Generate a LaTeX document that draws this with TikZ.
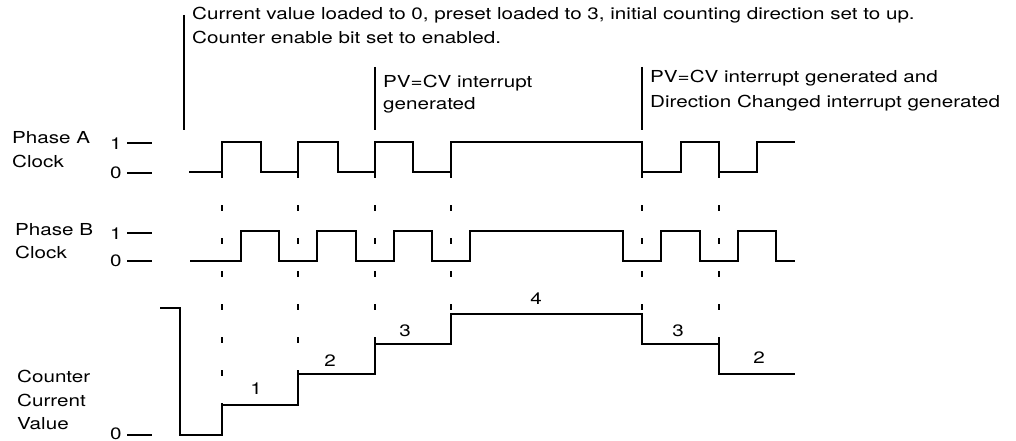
\documentclass[tikz,border=0pt]{standalone}
\usepackage{fontspec}
\setmainfont[FakeStretch=1.25]{TeX Gyre Heros}
\usepackage{tikz}
\usetikzlibrary{positioning}
\tikzset{sig/.style={line width=1.2pt,line join=miter},
  lbl/.style={font=\fontsize{16.5}{20}\selectfont,inner sep=0pt,anchor=base west,align=left},
  val/.style={font=\fontsize{16.5}{20}\selectfont,inner sep=0pt},
  guide/.style={line width=1.1pt,dash pattern=on 6pt off 27pt},
  evbar/.style={line width=1.5pt}}

\begin{document}
\begin{tikzpicture}[x=1pt,y=-1pt]
  \useasboundingbox (0,0) rectangle (1016,441);
  % annotations
  \draw[evbar] (184,15)--(184,130); \draw[evbar] (375,67)--(375,130); \draw[evbar] (642,67)--(642,130);
  \node[lbl] (init) at (192,20) {Current value loaded to 0, preset loaded to 3, initial counting direction set to up.};
  \node[lbl] (init2) at (192,44) {Counter enable bit set to enabled.};
  \node[lbl] (pvcv) at (383,88) {PV=CV interrupt};
  \node[lbl] (pvcv2) at (383,110) {generated};
  \node[lbl] (dir) at (650,83) {PV=CV interrupt generated and};
  \node[lbl] (dir2) at (650,107) {Direction Changed interrupt generated};
  % row labels
  \node[lbl] (phA) at (12,143) {Phase A}; \node[lbl] (phAc) at (12,167) {Clock};
  \node[lbl] (phB) at (15,235) {Phase B}; \node[lbl] (phBc) at (15,258) {Clock};
  \node[lbl] (cnt) at (17,382) {Counter}; \node[lbl] (cntc) at (17,406) {Current}; \node[lbl] (cntv) at (17,429) {Value};
  \node[lbl] (a1) at (110,149) {1}; \draw[sig] (127,143)--(152,143);
  \node[lbl] (a0) at (110,178) {0}; \draw[sig] (127,173)--(152,173);
  \node[lbl] (b1) at (110,239) {1}; \draw[sig] (127,233)--(152,233);
  \node[lbl] (b0) at (110,266) {0}; \draw[sig] (127,261)--(152,261);
  \node[lbl] (c0) at (110,439) {0}; \draw[sig] (127,435)--(152,435);
  % dashed guides
  \foreach \x/\y in {222/405,298/374,375/344,451/314,642/314,719/344}
    \draw[guide] (\x,172)--(\x,\y);
  % phase A
  \draw[sig] (189,172)--(222,172)--(222,142)--(261,142)--(261,172)--(298,172)--(298,142)--(338,142)--(338,172)--(375,172)--(375,142)--(413,142)--(413,172)--(451,172)--(451,142)--(642,142)--(642,172)--(681,172)--(681,142)--(719,142)--(719,172)--(757,172)--(757,142)--(795,142);
  % phase B
  \draw[sig] (190,261)--(241,261)--(241,231)--(279,231)--(279,261)--(317,261)--(317,231)--(356,231)--(356,261)--(394,261)--(394,231)--(432,231)--(432,261)--(470,261)--(470,231)--(623,231)--(623,261)--(661,261)--(661,231)--(700,231)--(700,261)--(738,261)--(738,231)--(776,231)--(776,261)--(795,261);
  % counter value
  \draw[sig] (160,308)--(180,308)--(180,435)--(222,435)--(222,405)--(298,405)--(298,374)--(375,374)--(375,344)--(451,344)--(451,314)--(642,314)--(642,344)--(719,344)--(719,374)--(795,374);
  \node[val] (v1) at (256,389) {1}; \node[val] (v2) at (330,361) {2}; \node[val] (v3) at (405,331) {3};
  \node[val] (v4) at (536,299) {4}; \node[val] (v3b) at (678,331) {3}; \node[val] (v2b) at (759,358) {2};
\end{tikzpicture}
\end{document}
